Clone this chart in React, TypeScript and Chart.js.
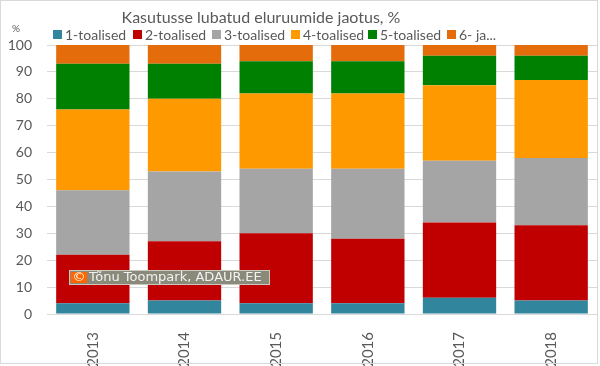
import React, { useEffect, useRef } from "react";
import { Chart, registerables } from "chart.js";

Chart.register(...registerables);

const TITLE = "Kasutusse lubatud eluruumide jaotus, %";
const years = ["2013", "2014", "2015", "2016", "2017", "2018"];
const seriesNames = ["1-toalised", "2-toalised", "3-toalised", "4-toalised", "5-toalised", "6- ja..."];
const seriesColors = ["#31859C", "#C00000", "#A5A5A5", "#FF9900", "#008000", "#E46C0A"];
const rooms1 = [4, 5, 4, 4, 6, 5];
const rooms2 = [18, 22, 26, 24, 28, 28];
const rooms3 = [24, 26, 24, 26, 23, 25];
const rooms4 = [30, 27, 28, 28, 28, 29];
const rooms5 = [17, 13, 12, 12, 11, 9];
const rooms6 = [7, 7, 6, 6, 4, 4];
const seriesValues = [rooms1, rooms2, rooms3, rooms4, rooms5, rooms6];
const WATERMARK = "Tõnu Toompark, ADAUR.EE";

const FONT = "Lato, 'Open Sans', sans-serif";
const TEXT = "#595959";

const overlay = {
  id: "overlay",
  afterDraw(chart: any) {
    const ctx = chart.ctx;
    ctx.save();
    // border
    ctx.strokeStyle = "#d9d9d9";
    ctx.lineWidth = 1;
    ctx.strokeRect(0.5, 0.5, 597, 363);
    // title
    ctx.fillStyle = TEXT;
    ctx.font = `16px ${FONT}`;
    ctx.textAlign = "center";
    ctx.textBaseline = "middle";
    ctx.fillText(TITLE, 261, 18);
    // legend
    ctx.font = `14px ${FONT}`;
    ctx.textAlign = "left";
    const starts = [53, 133, 212, 291, 368, 447];
    chart.data.datasets.forEach((ds: any, i: number) => {
      const x = starts[i];
      ctx.fillStyle = ds.backgroundColor;
      ctx.fillRect(x, 30, 9, 9);
      ctx.fillStyle = TEXT;
      ctx.fillText(ds.label, x + 12, 35);
    });
    // % unit
    ctx.font = `10px ${FONT}`;
    ctx.textAlign = "center";
    ctx.fillText("%", 16, 29);
    // watermark
    const wx = 69, wy = 270, ww = 201, wh = 15;
    ctx.fillStyle = "#8a8a7b";
    ctx.fillRect(wx, wy, ww, wh);
    ctx.strokeStyle = "#c9c9c0";
    ctx.strokeRect(wx + 0.5, wy + 0.5, ww - 1, wh - 1);
    ctx.fillStyle = "#FF6600";
    ctx.fillRect(wx + 2, wy + 2, 16, wh - 4);
    ctx.fillStyle = "#ffffff";
    ctx.font = `13px 'DejaVu Sans', sans-serif`;
    ctx.textAlign = "center";
    ctx.fillText("©", wx + 10, wy + 8);
    ctx.fillStyle = "#f2f2f2";
    ctx.textAlign = "left";
    ctx.font = `13px 'DejaVu Sans', sans-serif`;
    ctx.fillText(WATERMARK, wx + 20, wy + 8);
    ctx.restore();
  },
};

export default function App() {
  const ref = useRef<HTMLCanvasElement>(null);
  useEffect(() => {
    document.body.style.margin = "0";
    const chart = new Chart(ref.current!, {
      type: "bar",
      data: {
        labels: years,
        datasets: seriesValues.map((v, i) => ({
          label: seriesNames[i],
          data: v,
          backgroundColor: seriesColors[i],
          borderWidth: 0,
          categoryPercentage: 0.8,
          barPercentage: 1.0,
        })),
      },
      options: {
        animation: false,
        responsive: false,
        layout: { padding: { top: 45, right: 3, left: 0, bottom: 0 } },
        plugins: {
          legend: { display: false },
          title: { display: false },
          tooltip: { enabled: false },
        },
        scales: {
          x: {
            stacked: true,
            grid: { display: false },
            border: { display: false },
            ticks: {
              color: TEXT,
              font: { family: FONT, size: 15 },
              minRotation: 90,
              maxRotation: 90,
              padding: 10,
            },
            afterFit(scale: any) {
              scale.height = 52;
            },
          },
          y: {
            stacked: true,
            min: 0,
            max: 100,
            grid: { color: "#d9d9d9", drawTicks: false },
            border: { display: false },
            ticks: {
              stepSize: 10,
              color: TEXT,
              font: { family: FONT, size: 14 },
              padding: 15,
            },
            afterFit(scale: any) {
              scale.width = 47;
            },
          },
        },
      },
      plugins: [overlay],
    });
    return () => chart.destroy();
  }, []);
  return <canvas ref={ref} width={600} height={366} style={{ display: "block" }} />;
}
